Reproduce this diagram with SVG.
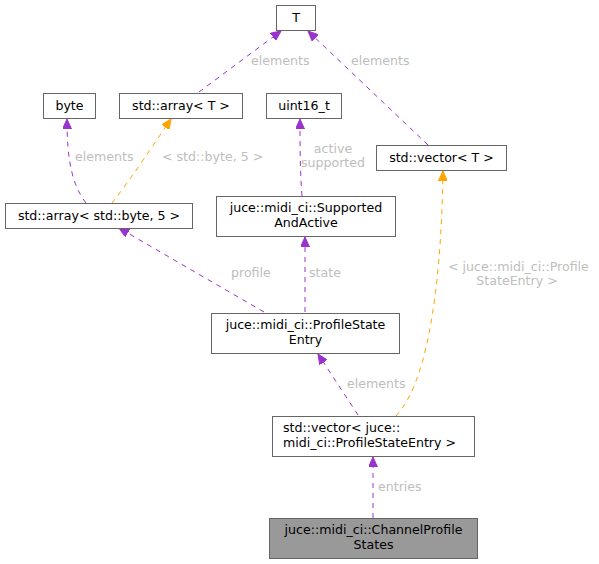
<svg xmlns="http://www.w3.org/2000/svg" width="599" height="564" viewBox="0 0 599 564">
<style>
text{font-family:"DejaVu Sans","Liberation Sans",sans-serif;font-size:12.6px}
.node rect{fill:#fff;stroke:#666;stroke-width:1}
.node text{fill:#000;text-anchor:middle}
.node text.l{text-anchor:start}
.focus rect{fill:#999;stroke:#666}
.e{fill:none;stroke-width:1;stroke-dasharray:5,5}
.p{stroke:#9a32cd}
.o{stroke:#ffa500}
.lbl{fill:#bebebe}
.c{text-anchor:middle}
</style>
<defs>
<marker id="ap" markerWidth="11" markerHeight="9" refX="10" refY="4.5" orient="auto" markerUnits="userSpaceOnUse"><path d="M0,0 L10,4.5 L0,9 z" fill="#9a32cd" stroke="#9a32cd"/></marker>
<marker id="ao" markerWidth="11" markerHeight="9" refX="10" refY="4.5" orient="auto" markerUnits="userSpaceOnUse"><path d="M0,0 L10,4.5 L0,9 z" fill="#ffa500" stroke="#ffa500"/></marker>
</defs>
<rect width="599" height="564" fill="#fff"/>
<g id="edges">
<path class="e p" d="M199,92 L281,31" marker-end="url(#ap)"/>
<text class="lbl" x="251" y="65">elements</text>
<path class="e p" d="M428,145 L308,31" marker-end="url(#ap)"/>
<text class="lbl" x="351" y="65">elements</text>
<path class="e p" d="M86,203 C72,185 67,160 67,119" marker-end="url(#ap)"/>
<text class="lbl" x="75" y="161">elements</text>
<path class="e o" d="M112,203 C130,180 150,150 171,119" marker-end="url(#ao)"/>
<text class="lbl" x="162" y="161">&lt; std::byte, 5 &gt;</text>
<path class="e p" d="M302,196 C300,170 300,145 300,119" marker-end="url(#ap)"/>
<text class="lbl c" x="333" y="153">active</text>
<text class="lbl c" x="333" y="167">supported</text>
<path class="e p" d="M264,312 L119,228" marker-end="url(#ap)"/>
<text class="lbl" x="231" y="277">profile</text>
<path class="e p" d="M305,312 L305,237" marker-end="url(#ap)"/>
<text class="lbl" x="309" y="277">state</text>
<path class="e p" d="M358,415 L318,354" marker-end="url(#ap)"/>
<text class="lbl" x="347" y="388">elements</text>
<path class="e o" d="M396,416 C425,385 441,300 443,171" marker-end="url(#ao)"/>
<text class="lbl" x="448" y="271">&lt; juce::midi_ci::Profile</text>
<text class="lbl c" x="517" y="285">StateEntry &gt;</text>
<path class="e p" d="M373,518 L373,457" marker-end="url(#ap)"/>
<text class="lbl" x="378" y="491">entries</text>
</g>
<g id="T" class="node"><rect x="276.5" y="5.5" width="39" height="25"/><text x="296" y="22">T</text></g>
<g id="byte" class="node"><rect x="43.5" y="93.5" width="52" height="25"/><text x="69.5" y="110">byte</text></g>
<g id="array_T" class="node"><rect x="119.5" y="93.5" width="123" height="25"/><text x="181" y="110">std::array&lt; T &gt;</text></g>
<g id="uint16_t" class="node"><rect x="266.5" y="93.5" width="75" height="25"/><text x="304" y="110">uint16_t</text></g>
<g id="vector_T" class="node"><rect x="376.5" y="145.5" width="130" height="25"/><text x="441.5" y="162">std::vector&lt; T &gt;</text></g>
<g id="array_byte5" class="node"><rect x="5.5" y="203.5" width="187" height="25"/><text x="99" y="220">std::array&lt; std::byte, 5 &gt;</text></g>
<g id="SupportedAndActive" class="node"><rect x="216.5" y="196.5" width="179" height="40"/><text x="306" y="212">juce::midi_ci::Supported</text><text x="306" y="227">AndActive</text></g>
<g id="ProfileStateEntry" class="node"><rect x="211.5" y="313.5" width="188" height="40"/><text x="305.5" y="329">juce::midi_ci::ProfileState</text><text x="305.5" y="344">Entry</text></g>
<g id="vector_PSE" class="node"><rect x="272.5" y="416.5" width="202" height="40"/><text class="l" x="283" y="432">std::vector&lt; juce::</text><text class="l" x="283" y="447">midi_ci::ProfileStateEntry &gt;</text></g>
<g id="ChannelProfileStates" class="node focus"><rect x="269.5" y="518.5" width="208" height="40"/><text x="373.5" y="534">juce::midi_ci::ChannelProfile</text><text x="373.5" y="549">States</text></g>
</svg>
